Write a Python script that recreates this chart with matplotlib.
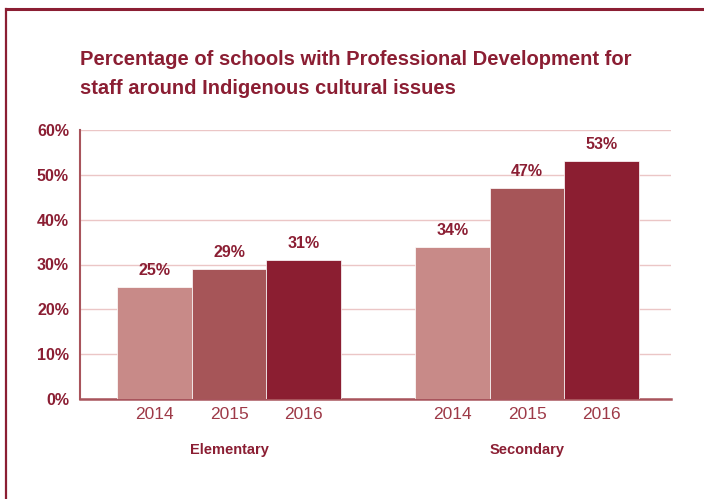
import matplotlib
matplotlib.use('Agg')
import matplotlib.pyplot as plt
from matplotlib.lines import Line2D

# data
groups = ['Elementary', 'Secondary']
years = ['2014', '2015', '2016']
elementary = [25, 29, 31]
secondary = [34, 47, 53]
yticks = [0, 10, 20, 30, 40, 50, 60]
title_lines = ['Percentage of schools with Professional Development for',
               'staff around Indigenous cultural issues']

colors = ['#C88A88', '#A65558', '#8B1E31']
maroon = '#8B1E33'
tickcol = '#9E3A48'

plt.rcParams['font.family'] = ['Liberation Sans', 'DejaVu Sans']

fig = plt.figure(figsize=(7.04, 4.99), dpi=100)
ax = fig.add_axes([80 / 704, 1 - 399 / 499, (671 - 80) / 704, (399 - 130) / 499])

values = [elementary, secondary]
starts = [1, 5]
for g, vals in enumerate(values):
    for i, v in enumerate(vals):
        x = starts[g] + i
        ax.bar(x, v, width=1.0, color=colors[i], edgecolor='white', linewidth=0.5, zorder=3)
        ax.text(x, v + 2.0, '%d%%' % v, ha='center', va='bottom', fontsize=11.5,
                fontweight='bold', color=maroon)

ax.set_xlim(0, 7.93)
ax.set_ylim(0, 60)
ax.set_yticks(yticks)
ax.set_yticklabels(['%d%%' % t for t in yticks], fontsize=11.5, fontweight='bold', color=maroon)
ax.tick_params(axis='y', length=0, pad=8)

xt = []
xl = []
for g in range(len(groups)):
    for i, y in enumerate(years):
        xt.append(starts[g] + i)
        xl.append(y)
ax.set_xticks(xt)
ax.set_xticklabels(xl, fontsize=12.5, color=tickcol)
ax.tick_params(axis='x', length=0, pad=6)

for g, name in enumerate(groups):
    ax.text(starts[g] + 1, -11.4, name, ha='center', va='center', fontsize=10.5,
            fontweight='bold', color=maroon)

ax.grid(axis='y', color='#EBC6C6', linewidth=1, zorder=0)
for s in ['top', 'right']:
    ax.spines[s].set_visible(False)
ax.spines['left'].set_color('#A8545C')
ax.spines['left'].set_linewidth(1.5)
ax.spines['bottom'].set_color('#A8545C')
ax.spines['bottom'].set_linewidth(1.8)

fig.text(80 / 704, 1 - 65 / 499, title_lines[0], ha='left', va='baseline',
         fontsize=14.5, fontweight='bold', color=maroon)
fig.text(80 / 704, 1 - 94 / 499, title_lines[1], ha='left', va='baseline',
         fontsize=14.5, fontweight='bold', color=maroon)

# frame
fig.add_artist(Line2D([6 / 704, 1], [1 - 9 / 499, 1 - 9 / 499], transform=fig.transFigure,
                      color=maroon, linewidth=2.2))
fig.add_artist(Line2D([6 / 704, 6 / 704], [0, 1 - 9 / 499], transform=fig.transFigure,
                      color=maroon, linewidth=1.6))

fig.savefig('out.png', dpi=100)
